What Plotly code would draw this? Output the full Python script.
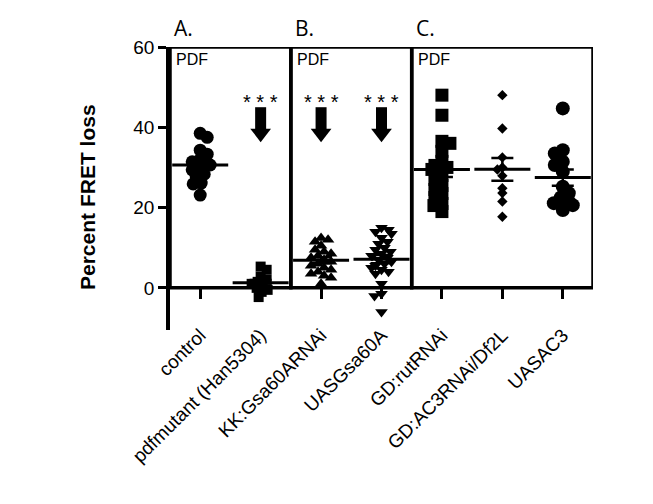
import numpy as np
import plotly.graph_objects as go

# ---------------- data ----------------
categories = ["control", "pdfmutant (Han5304)", "KK:Gsa60ARNAi", "UASGsa60A",
              "GD:rutRNAi", "GD:AC3RNAi/Df2L", "UASAC3"]

control = [38.5, 37.5, 34.3, 33.3, 32.0, 31.4, 31.1, 30.6, 30.0, 29.4,
           28.3, 27.7, 26.1, 25.9, 23.1]
pdfmutant = [5.3, 4.5, 2.8, 2.0, 1.5, 1.0, 0.5, 0.0, -0.5, -1.0, -2.3]
kk_gsa60a_rnai = [12.4, 12.0, 11.5, 10.5, 9.5, 9.0, 8.5, 8.0, 7.5, 7.0,
                  6.5, 6.0, 5.5, 5.0, 4.5, 4.0, 3.5, 3.0, 2.5, 1.0]
uas_gsa60a = [15.0, 14.5, 14.0, 13.5, 12.5, 11.5, 11.0, 10.0, 9.5, 9.0,
              8.5, 8.0, 8.0, 7.5, 7.0, 6.5, 6.0, 5.5, 5.0, 4.5, 4.0, 3.5,
              1.0, -1.5, -2.0, -6.0]
gd_rut_rnai = [48.0, 43.0, 36.5, 36.0, 34.0, 31.5, 30.5, 30.0, 29.5, 28.0,
               27.0, 25.5, 24.5, 23.5, 22.5, 21.0, 20.5, 19.0]
gd_ac3_df2l = [48.0, 39.7, 32.5, 30.0, 29.5, 27.9, 24.8, 23.6, 21.5, 17.7]
uas_ac3 = [44.7, 34.3, 33.5, 31.4, 30.6, 28.9, 25.2, 23.6, 22.5, 21.5,
           21.1, 20.6, 19.4]

series = [control, pdfmutant, kk_gsa60a_rnai, uas_gsa60a,
          gd_rut_rnai, gd_ac3_df2l, uas_ac3]

y_ticks = [0, 20, 40, 60]
panel_labels = ["A.", "B.", "C."]
panel_groups = [[0, 1], [2, 3], [4, 5, 6]]
panel_note = "PDF"
significant = [1, 2, 3]
sig_text = "* * *"
y_title = "Percent FRET loss"

# arrow marking the significant reduction (tail top, head tip), in data units
arrow_tail, arrow_tip = 45.0, 36.3
stars_y = 46.8

# ---------------- styling ----------------
symbols = ["circle", "square", "triangle-up", "triangle-down",
           "square", "diamond", "circle"]
sizes = [13, 10, 11, 11, 13, 8, 14]

W, H = 653, 504
PAGE = 8  # page body margin offsets the figure in the browser
ML, MR, MT, MB = 170 - PAGE, 60 + PAGE, 47 - PAGE, 174 + PAGE
X_RANGE = [-0.5, len(categories) - 0.5]
Y_RANGE = [-10.5, 60]
x_px = (W - ML - MR) / (X_RANGE[1] - X_RANGE[0])
y_px = (H - MT - MB) / (Y_RANGE[1] - Y_RANGE[0])

FONT = "Liberation Sans, Arial, sans-serif"
BLACK = "black"
HEAD_SIZE = 18  # triangle-down marker size for arrow heads


def swarm_offsets(values, size, overlap=0.6, step=1.0, cap=10.0):
    """Deterministic beeswarm: x offsets (in axis units) for one column."""
    vals = np.asarray(values, float)
    order = np.argsort(-vals, kind="stable")
    placed = []
    offs = np.zeros(len(vals))
    dmin2 = (size * overlap) ** 2
    for n, idx in enumerate(order):
        yp = vals[idx] * y_px
        best = None
        k = 0
        while k * step <= cap:
            if k == 0:
                cands = [0.0]
            else:
                cands = [k * step, -k * step] if n % 2 else [-k * step, k * step]
            for c in cands:
                if all((c - px) ** 2 + (yp - py) ** 2 >= dmin2 for px, py in placed):
                    best = c
                    break
            if best is not None:
                break
            k += 1
        if best is None:
            best = cap if n % 2 else -cap
        placed.append((best, yp))
        offs[idx] = best / x_px
    return offs


fig = go.Figure()

for i, vals in enumerate(series):
    offs = swarm_offsets(vals, sizes[i])
    fig.add_trace(go.Scatter(
        x=i + offs, y=vals, mode="markers",
        marker=dict(symbol=symbols[i], size=sizes[i], color=BLACK,
                    line=dict(width=0)),
        showlegend=False, hoverinfo="y"))

for i, vals in enumerate(series):
    arr = np.asarray(vals, float)
    mean = arr.mean()
    sem = arr.std(ddof=1) / np.sqrt(len(arr))
    fig.add_trace(go.Scatter(
        x=[i], y=[mean], mode="markers",
        marker=dict(symbol="line-ew", size=40, color=BLACK,
                    line=dict(width=3, color=BLACK)),
        error_y=dict(type="data", array=[sem], visible=True,
                     thickness=2.5, width=11, color=BLACK),
        showlegend=False, hoverinfo="y"))

# arrow heads: triangle-down markers whose tip sits on arrow_tip
head_r_units = (HEAD_SIZE / 2) / y_px
head_center = arrow_tip + head_r_units
fig.add_trace(go.Scatter(
    x=significant, y=[head_center] * len(significant), mode="markers",
    marker=dict(symbol="triangle-down", size=HEAD_SIZE, color=BLACK,
                line=dict(width=0)),
    showlegend=False, hoverinfo="skip"))

shapes = []
annotations = []
for lab, grp in zip(panel_labels, panel_groups):
    x0, x1 = min(grp) - 0.5, max(grp) + 0.5
    shapes.append(dict(type="rect", xref="x", yref="y", x0=x0, x1=x1,
                       y0=0, y1=Y_RANGE[1],
                       line=dict(color=BLACK, width=3.5), layer="above"))
    annotations.append(dict(x=x0, y=1, xref="x", yref="paper",
                            xanchor="left", yanchor="bottom",
                            xshift=2, yshift=3, showarrow=False, text=lab,
                            font=dict(family="Open Sans, sans-serif",
                                      size=21, color=BLACK)))
    annotations.append(dict(x=x0, y=Y_RANGE[1], xref="x", yref="y",
                            xanchor="left", yanchor="top",
                            xshift=4, yshift=-2, showarrow=False,
                            text=panel_note,
                            font=dict(family=FONT, size=16, color=BLACK)))

for c in significant:
    # arrow shaft
    shapes.append(dict(type="line", xref="x", yref="y", x0=c, x1=c,
                       y0=arrow_tail, y1=head_center + 0.2,
                       line=dict(color=BLACK, width=11)))
    annotations.append(dict(x=c, y=stars_y, xref="x", yref="y",
                            xanchor="center", yanchor="middle",
                            yshift=-2, showarrow=False, text=sig_text,
                            font=dict(family=FONT, size=20, color=BLACK)))

annotations.append(dict(x=0, y=0.47, xref="paper", yref="paper",
                        xanchor="center", yanchor="middle", xshift=-82,
                        textangle=-90, showarrow=False,
                        text="<b>" + y_title + "</b>",
                        font=dict(family=FONT, size=21, color=BLACK)))

zero_pos = (0 - Y_RANGE[0]) / (Y_RANGE[1] - Y_RANGE[0])

fig.update_layout(
    width=W, height=H,
    margin=dict(l=ML, r=MR, t=MT, b=MB, pad=0),
    paper_bgcolor="white", plot_bgcolor="white",
    shapes=shapes, annotations=annotations,
    xaxis=dict(range=X_RANGE, tickmode="array",
               tickvals=list(range(len(categories))), ticktext=categories,
               tickangle=-45, ticks="outside", ticklen=10, tickwidth=3,
               tickcolor=BLACK, showline=False, showgrid=False,
               zeroline=False, anchor="free", position=zero_pos,
               ticklabelstandoff=18,
               tickfont=dict(family=FONT, size=19, color=BLACK)),
    yaxis=dict(range=Y_RANGE, tickmode="array", tickvals=y_ticks,
               ticks="outside", ticklen=8, tickwidth=3, tickcolor=BLACK,
               showline=True, linewidth=3.5, linecolor=BLACK,
               showgrid=False, zeroline=False,
               tickfont=dict(family=FONT, size=19, color=BLACK)),
)

fig.write_html("out.html")
